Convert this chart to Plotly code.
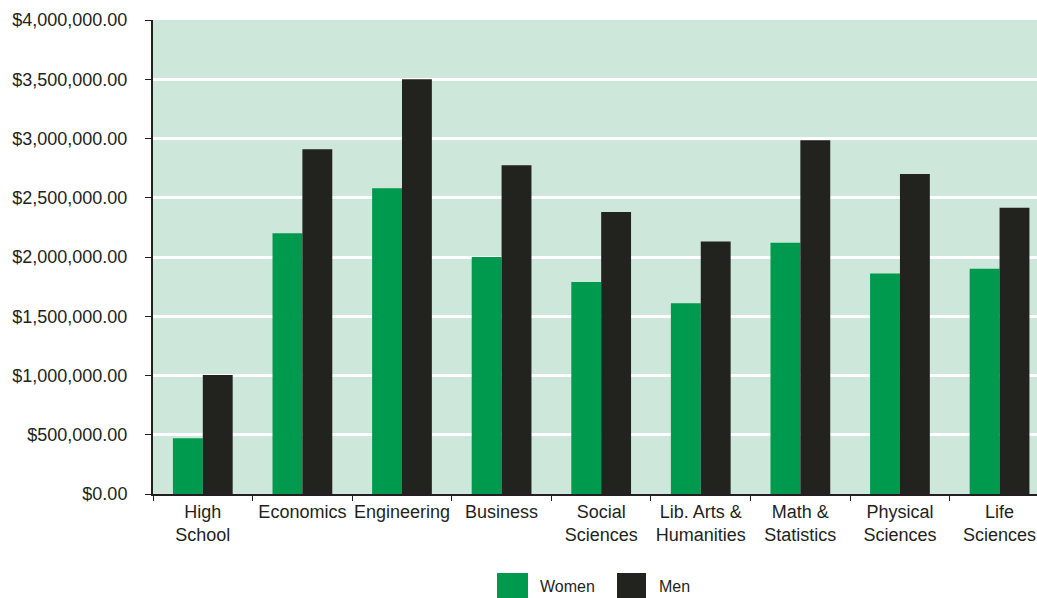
import plotly.graph_objects as go

categories = ["High<br>School", "Economics", "Engineering", "Business", "Social<br>Sciences",
              "Lib. Arts &<br>Humanities", "Math &<br>Statistics", "Physical<br>Sciences", "Life<br>Sciences"]
women = [470000, 2200000, 2580000, 2000000, 1790000, 1610000, 2120000, 1860000, 1900000]
men = [1005000, 2910000, 3500000, 2775000, 2380000, 2130000, 2985000, 2700000, 2415000]
series_names = ["Women", "Men"]
colors = ["#009a4e", "#22231f"]

FONT = "Liberation Sans, Arial, sans-serif"

fig = go.Figure()
fig.add_trace(go.Bar(x=categories, y=women, name=series_names[0], marker_color=colors[0],
                     marker_line_width=0))
fig.add_trace(go.Bar(x=categories, y=men, name=series_names[1], marker_color=colors[1],
                     marker_line_width=0))

W, H = 1037, 598
ml, mr, mt, mb = 153, 0, 20, 104
pw, ph = W - ml - mr, H - mt - mb

def px(x):
    return (x - ml) / pw

def py(y):
    return (H - mb - y) / ph

shapes = []
annotations = []
legend_items = [(497, 528, 538), (617, 646, 657)]
for (x0, x1, tx), name, col in zip(legend_items, series_names, colors):
    shapes.append(dict(type="rect", xref="paper", yref="paper", x0=px(x0), x1=px(x1),
                       y0=py(573), y1=py(598), fillcolor=col, line_width=0))
    annotations.append(dict(xref="paper", yref="paper", x=px(tx), y=py(586), text=name,
                            showarrow=False, xanchor="left", yanchor="middle",
                            font=dict(family=FONT, size=16, color="#231f20")))

fig.update_layout(
    width=W, height=H,
    margin=dict(l=ml, r=mr, t=mt, b=mb, pad=0),
    paper_bgcolor="white",
    plot_bgcolor="#cde7da",
    barmode="group",
    bargap=0.4,
    bargroupgap=0,
    showlegend=False,
    shapes=shapes,
    annotations=annotations,
    font=dict(family=FONT, size=18, color="#231f20"),
    xaxis=dict(range=[-0.5, 8.376], showgrid=False, showline=True, linecolor="#231f20",
               linewidth=2, ticks="outside", tickson="boundaries", ticklen=5,
               tickcolor="#231f20", tickfont=dict(family=FONT, size=18, color="#231f20"),
               tickangle=0),
    yaxis=dict(range=[0, 4000000], dtick=500000, tickformat="$,.2f", showgrid=True,
               gridcolor="white", gridwidth=2.5, showline=True, linecolor="#231f20",
               linewidth=2, ticks="outside", ticklen=6, tickcolor="#231f20",
               tickfont=dict(family=FONT, size=18, color="#231f20"), zeroline=False,
               ticklabelstandoff=14),
)

fig.write_html("out.html")
